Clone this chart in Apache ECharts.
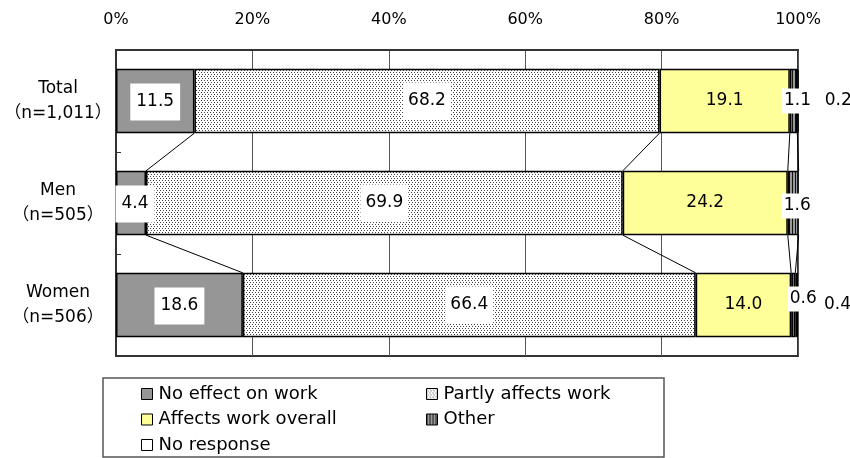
<!DOCTYPE html>
<html>
<head>
<meta charset="utf-8">
<script src="https://cdn.jsdelivr.net/npm/echarts@6/dist/echarts.min.js"></script>
<style>
  html, body { margin: 0; padding: 0; background: #fff; }
  #chart { width: 850px; height: 458px; }
</style>
</head>
<body>
<div id="chart"></div>
<script>
// Survey groups (top to bottom) and their sample sizes
const groups = ['Total', 'Men', 'Women'];
const sampleSizes = ['（n=1,011）', '（n=505）', '（n=506）'];

// Share of respondents per answer, in percent
const noEffect      = [11.5, 4.4, 18.6];
const partlyAffects = [68.2, 69.9, 66.4];
const affectsAll    = [19.1, 24.2, 14.0];
const other         = [1.1, 1.6, 0.6];
const noResponse    = [0.2, 0.0, 0.4];

const seriesNames = ['No effect on work', 'Partly affects work', 'Affects work overall', 'Other', 'No response'];
const seriesValues = [noEffect, partlyAffects, affectsAll, other, noResponse];

// Percent axis ticks
const pctTicks = [0, 20, 40, 60, 80, 100];

const FONT = 'DejaVu Sans, "Noto Sans CJK JP", sans-serif';
const BAR_RATIO = 0.63;

// Fill patterns drawn on small canvases
function makeTile(w, h, draw) {
  const c = document.createElement('canvas');
  c.width = w; c.height = h;
  const ctx = c.getContext('2d');
  draw(ctx);
  return { image: c, repeat: 'repeat' };
}
const dotFill = makeTile(6, 4, ctx => {
  ctx.fillStyle = '#ffffff'; ctx.fillRect(0, 0, 6, 4);
  ctx.fillStyle = '#444444';
  ctx.fillRect(0, 0, 1, 1); ctx.fillRect(3, 0, 1, 1);
  ctx.fillRect(1, 2, 1, 1); ctx.fillRect(4, 2, 1, 1);
});
const stripeFill = makeTile(3, 2, ctx => {
  ctx.fillStyle = '#9a9a9a'; ctx.fillRect(0, 0, 3, 2);
  ctx.fillStyle = '#111111'; ctx.fillRect(0, 0, 1, 2);
});

const fills = ['#969696', dotFill, '#ffff99', stripeFill, '#ffffff'];

// Label styling per answer
const labelStyles = [
  { show: true, position: 'inside', backgroundColor: '#fff', padding: [10, 6] },
  { show: true, position: 'inside', backgroundColor: '#fff', padding: [10, 5] },
  { show: true, position: 'inside' },
  { show: true, position: 'inside', backgroundColor: '#fff', padding: [4, 2] },
  { show: true, position: 'right', distance: 26 }
];
// fine-tuning of the small labels near the bar ends
const otherLabelOffsets = [[4, 0], [4, 3], [10, -6]];
const noEffectLabelOffsets = [[0, 1], [4, 1], [0, 1]];

const barSeries = seriesNames.map((name, s) => ({
  name,
  type: 'bar',
  stack: 'all',
  barCategoryGap: '37%',
  itemStyle: { color: fills[s], borderColor: '#000', borderWidth: 1.5 },
  label: Object.assign({
    color: '#000', fontFamily: FONT, fontSize: 17,
    formatter: p => p.value.toFixed(1)
  }, labelStyles[s]),
  data: seriesValues[s].map((v, i) => {
    const item = { value: v };
    if (v === 0) item.label = { show: false };
    else if (s === 3) item.label = { offset: otherLabelOffsets[i] };
    else if (s === 0) item.label = { offset: noEffectLabelOffsets[i] };
    return item;
  }),
  z: 3
}));

// Connector lines between neighbouring bars at each segment boundary
const connectorData = [];
for (let i = 0; i < groups.length - 1; i++) {
  let a = 0, b = 0;
  for (let s = 0; s < seriesValues.length - 1; s++) {
    a += seriesValues[s][i];
    b += seriesValues[s][i + 1];
    connectorData.push([a, b, i]);
  }
}

const connectorSeries = {
  type: 'custom',
  name: 'connectors',
  silent: true,
  encode: { x: [0, 1], y: 2 },
  renderItem: (params, api) => {
    const i = api.value(2);
    const p1 = api.coord([api.value(0), i]);
    const p2 = api.coord([api.value(1), i + 1]);
    const half = api.size([0, 1])[1] * BAR_RATIO / 2;
    return {
      type: 'line',
      shape: { x1: p1[0], y1: p1[1] + half, x2: p2[0], y2: p2[1] - half },
      style: { stroke: '#000', lineWidth: 1 }
    };
  },
  data: connectorData,
  z: 2
};

const chart = echarts.init(document.getElementById('chart'), null, { renderer: 'canvas' });

const legendCommon = {
  orient: 'vertical',
  padding: 0,
  itemWidth: 11,
  itemHeight: 11,
  itemGap: 7.5,
  icon: 'rect',
  itemStyle: { borderColor: '#000', borderWidth: 1 },
  textStyle: { fontFamily: FONT, fontSize: 18, color: '#000', padding: [0, 0, 0, 1] },
  selectedMode: false
};

chart.setOption({
  animation: false,
  backgroundColor: '#fff',
  grid: { left: 116, right: 52, top: 50, bottom: 102, show: true, borderColor: '#333', borderWidth: 2, containLabel: false },
  xAxis: {
    type: 'value',
    position: 'top',
    min: pctTicks[0],
    max: pctTicks[pctTicks.length - 1],
    interval: pctTicks[1] - pctTicks[0],
    axisLine: { show: true, lineStyle: { color: '#333', width: 2 } },
    axisTick: { show: false },
    splitLine: { show: true, lineStyle: { color: '#555', width: 1 } },
    axisLabel: { margin: 22, color: '#000', fontFamily: FONT, fontSize: 16, formatter: '{value}%' }
  },
  yAxis: {
    type: 'category',
    inverse: true,
    data: groups,
    axisLine: { show: true, lineStyle: { color: '#333', width: 2 } },
    axisTick: { show: true, inside: true, length: 5, lineStyle: { color: '#333', width: 1 } },
    axisLabel: {
      margin: 58,
      align: 'center',
      color: '#000',
      fontFamily: FONT,
      fontSize: 17,
      lineHeight: 25,
      padding: [6, 0, 0, 0],
      formatter: (v, idx) => v + '\n' + sampleSizes[idx]
    }
  },
  legend: [
    Object.assign({}, legendCommon, { left: 141, top: 385, data: [seriesNames[0], seriesNames[2], seriesNames[4]] }),
    Object.assign({}, legendCommon, { left: 426, top: 385, data: [seriesNames[1], seriesNames[3]] })
  ],
  graphic: [{
    type: 'rect',
    shape: { x: 103, y: 378, width: 561, height: 79 },
    style: { fill: 'none', stroke: '#555', lineWidth: 1.5 },
    silent: true
  }],
  series: barSeries.concat([connectorSeries])
});
</script>
</body>
</html>
